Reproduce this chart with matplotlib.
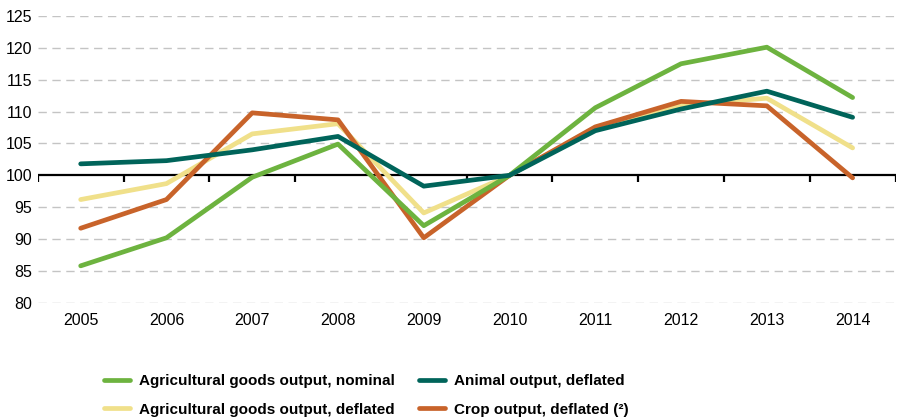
import numpy as np
import matplotlib
matplotlib.use("Agg")
import matplotlib.pyplot as plt

# index values, 2010 = 100
years = ["2005", "2006", "2007", "2008", "2009", "2010", "2011", "2012", "2013", "2014"]
agri_nominal = [85.8, 90.2, 99.7, 104.9, 92.1, 100.0, 110.6, 117.5, 120.1, 112.2]
agri_deflated = [96.2, 98.7, 106.5, 108.1, 94.1, 100.0, 107.5, 111.0, 112.1, 104.3]
animal_deflated = [101.8, 102.3, 104.0, 106.1, 98.3, 100.0, 107.0, 110.4, 113.2, 109.1]
crop_deflated = [91.7, 96.2, 109.8, 108.7, 90.2, 100.0, 107.6, 111.6, 110.9, 99.6]
y_ticks = [80, 85, 90, 95, 100, 105, 110, 115, 120, 125]

plt.rcParams['font.family'] = ['Liberation Sans', 'DejaVu Sans']

fig = plt.figure(figsize=(9, 4.2), dpi=100)
ax = fig.add_axes([0.042, 0.279, 0.953, 0.683])

x = np.arange(len(years))
ax.set_xlim(-0.5, len(years) - 0.5)
ax.set_ylim(80, 125)

# dashed grid
for v in y_ticks:
    if v != 100:
        ax.axhline(v, color="#c4c4c4", lw=1, ls=(0, (6, 4)), zorder=0)
ax.axhline(100, color="black", lw=1.6, zorder=1)
# tick marks between categories on the 100 line
ax.vlines(np.arange(len(years) + 1) - 0.5, 99.0, 100, color="black", lw=1.6, zorder=1)

lw = 3.4
l_yel, = ax.plot(x, agri_deflated, color="#f0e08a", lw=lw, solid_capstyle="round", zorder=2,
                 label="Agricultural goods output, deflated")
l_org, = ax.plot(x, crop_deflated, color="#c8632a", lw=lw, solid_capstyle="round", zorder=3,
                 label="Crop output, deflated (\u00b2)")
l_grn, = ax.plot(x, agri_nominal, color="#6db33f", lw=lw, solid_capstyle="round", zorder=4,
                 label="Agricultural goods output, nominal")
l_tea, = ax.plot(x, animal_deflated, color="#00645a", lw=lw, solid_capstyle="round", zorder=5,
                 label="Animal output, deflated")

for s in ax.spines.values():
    s.set_visible(False)

ax.set_yticks(y_ticks)
ax.tick_params(axis="y", length=0, pad=4, labelsize=11.5)
ax.set_xticks(x)
ax.set_xticklabels(years)
ax.tick_params(axis="x", length=0, pad=7, labelsize=11.5)

leg = fig.legend(handles=[l_grn, l_yel, l_tea, l_org], ncol=2, loc="lower left",
                 bbox_to_anchor=(0.1, -0.025), frameon=False, handlelength=1.7,
                 columnspacing=1.6, labelspacing=0.95, handletextpad=0.6,
                 prop={"weight": "bold", "size": 11})

fig.savefig("out.png", dpi=100)
